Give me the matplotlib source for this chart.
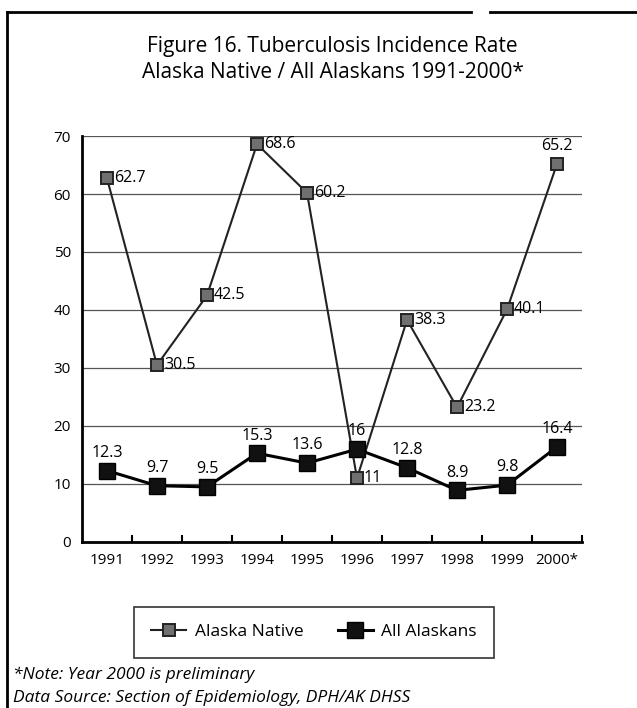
import matplotlib
matplotlib.use("Agg")
import matplotlib.pyplot as plt
from matplotlib.lines import Line2D

years = ["1991", "1992", "1993", "1994", "1995", "1996", "1997", "1998", "1999", "2000*"]
alaska_native = [62.7, 30.5, 42.5, 68.6, 60.2, 11, 38.3, 23.2, 40.1, 65.2]
all_alaskans = [12.3, 9.7, 9.5, 15.3, 13.6, 16, 12.8, 8.9, 9.8, 16.4]
native_labels = ["62.7", "30.5", "42.5", "68.6", "60.2", "11", "38.3", "23.2", "40.1", "65.2"]
all_labels = ["12.3", "9.7", "9.5", "15.3", "13.6", "16", "12.8", "8.9", "9.8", "16.4"]
yticks = [0, 10, 20, 30, 40, 50, 60, 70]

plt.rcParams['font.family'] = ['Open Sans', 'DejaVu Sans']

fig = plt.figure(figsize=(6.37, 7.08), dpi=100)
ax = fig.add_axes([0.1287, 0.2345, 0.785, 0.5734])

x = list(range(len(years)))
ax.set_xlim(-0.5, len(years) - 0.5)
ax.set_ylim(0, 70)
ax.set_yticks(yticks)
ax.set_yticklabels([str(v) for v in yticks], fontsize=11)
for v in yticks[1:]:
    ax.axhline(v, color='#555555', lw=0.9, zorder=1)

ax.plot(x, alaska_native, color='#222222', lw=1.5, marker='s', ms=9,
        mfc='#707070', mec='#222222', mew=1.4, zorder=3, label='Alaska Native')
ax.plot(x, all_alaskans, color='black', lw=2.2, marker='s', ms=11,
        mfc='#111111', mec='black', zorder=4, label='All Alaskans')

for i, (v, t) in enumerate(zip(alaska_native, native_labels)):
    if i == len(years) - 1:
        ax.annotate(t, (i, v), xytext=(0, 7), textcoords='offset points',
                    ha='center', va='bottom', fontsize=11.5, zorder=5)
    else:
        ax.annotate(t, (i, v), xytext=(5, 0), textcoords='offset points',
                    ha='left', va='center', fontsize=11.5, zorder=5)
for i, (v, t) in enumerate(zip(all_alaskans, all_labels)):
    ax.annotate(t, (i, v), xytext=(0, 7), textcoords='offset points',
                ha='center', va='bottom', fontsize=11.5, zorder=5)

ax.set_xticks(x)
ax.set_xticklabels(years, fontsize=11)
ax.tick_params(axis='x', length=0, pad=8)
ax.tick_params(axis='y', length=0, pad=8)
ax.set_xticks([i + 0.5 for i in x], minor=True)
ax.tick_params(axis='x', which='minor', direction='in', length=5, width=1.5)

for s in ['top', 'right']:
    ax.spines[s].set_visible(False)
for s in ['left', 'bottom']:
    ax.spines[s].set_linewidth(2)

fig.text(0.522, 0.935, "Figure 16. Tuberculosis Incidence Rate", ha='center', va='center', fontsize=15)
fig.text(0.522, 0.897, "Alaska Native / All Alaskans 1991-2000*", ha='center', va='center', fontsize=15)

leg = fig.legend(loc='center', bbox_to_anchor=(0.493, 0.107), ncol=2, frameon=True,
                 fontsize=12.5, fancybox=False, edgecolor='black', handlelength=2.0,
                 columnspacing=2.0, borderpad=1.0, handletextpad=0.5)
leg.get_frame().set_linewidth(1.2)

fig.text(0.02, 0.047, "*Note: Year 2000 is preliminary", fontsize=12.5, style='italic', va='center')
fig.text(0.02, 0.014, "Data Source: Section of Epidemiology, DPH/AK DHSS", fontsize=12.5, style='italic', va='center')

fig.add_artist(Line2D([0.011, 0.011], [0.0, 0.983], color='black', lw=2, transform=fig.transFigure))
fig.add_artist(Line2D([0.011, 0.74], [0.983, 0.983], color='black', lw=2, transform=fig.transFigure))
fig.add_artist(Line2D([0.77, 1.0], [0.983, 0.983], color='black', lw=2, transform=fig.transFigure))

fig.savefig("out.png", dpi=100)
